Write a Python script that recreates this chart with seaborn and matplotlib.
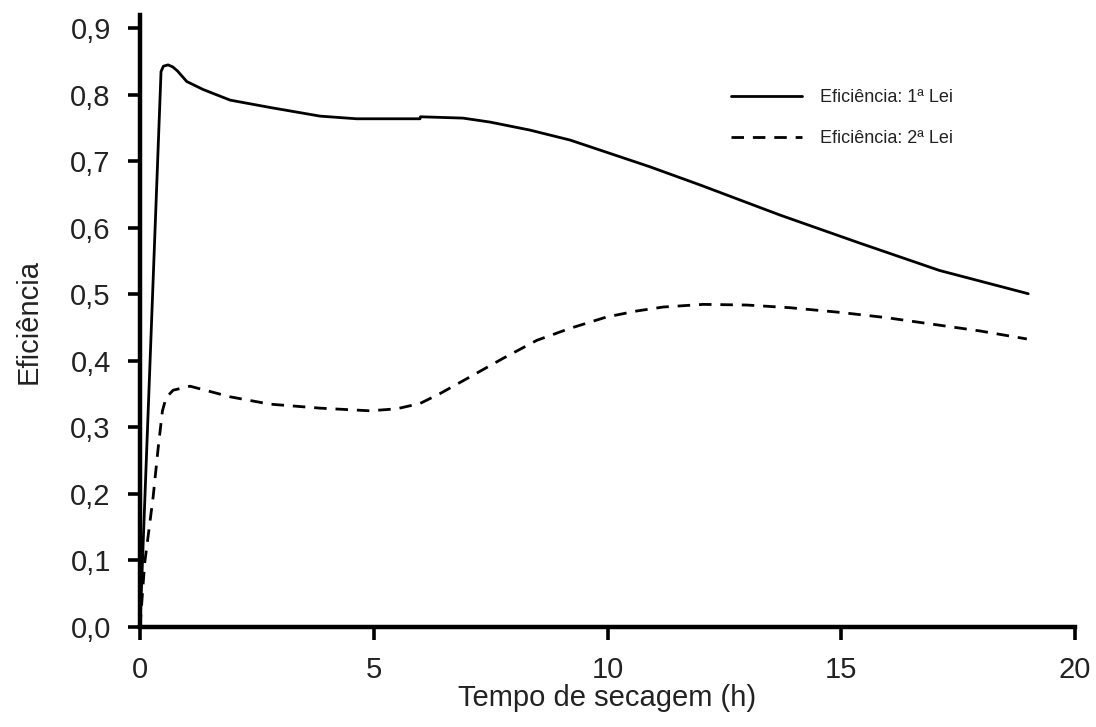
import matplotlib
matplotlib.use("Agg")
import matplotlib.pyplot as plt
import seaborn as sns
import pandas as pd

# dados
tempo_1lei = [0, 0.45, 0.5, 0.6, 0.7, 0.8, 0.9, 1.0, 1.35, 1.93, 2.78, 3.85, 4.63, 5.99, 6.0,
              6.91, 7.49, 8.34, 9.2, 10.05, 10.9, 12.0, 13.7, 15.4, 17.1, 19.0]
efic_1lei = [0, 0.835, 0.843, 0.845, 0.842, 0.836, 0.828, 0.820, 0.808, 0.792, 0.781, 0.768, 0.764, 0.764, 0.767,
             0.765, 0.759, 0.747, 0.732, 0.712, 0.692, 0.664, 0.619, 0.577, 0.536, 0.501]

tempo_2lei = [0, 0.1, 0.28, 0.39, 0.48, 0.56, 0.71, 1.07, 1.93, 2.78, 3.85, 4.92, 5.49, 5.99, 6.42,
              7.06, 7.77, 8.49, 9.2, 9.98, 10.62, 11.19, 12.05, 12.98, 13.9, 14.97, 15.97,
              16.97, 17.97, 18.97]
efic_2lei = [0, 0.096, 0.195, 0.27, 0.325, 0.345, 0.356, 0.362, 0.346, 0.335, 0.329, 0.325, 0.328, 0.336, 0.351,
             0.376, 0.404, 0.431, 0.449, 0.466, 0.475, 0.481, 0.485, 0.484, 0.480, 0.473, 0.465,
             0.455, 0.445, 0.433]

series_labels = ["Eficiência: 1ª Lei", "Eficiência: 2ª Lei"]
x_ticks = [0, 5, 10, 15, 20]
y_ticks = [0.0, 0.1, 0.2, 0.3, 0.4, 0.5, 0.6, 0.7, 0.8, 0.9]
y_tick_labels = ["0,0", "0,1", "0,2", "0,3", "0,4", "0,5", "0,6", "0,7", "0,8", "0,9"]

sns.set_style("ticks")
plt.rcParams["font.family"] = ["Liberation Sans", "DejaVu Sans"]

df1 = pd.DataFrame({"t": tempo_1lei, "e": efic_1lei})
df2 = pd.DataFrame({"t": tempo_2lei, "e": efic_2lei})

fig = plt.figure(figsize=(10.96, 7.27), dpi=100)
ax = fig.add_axes([140 / 1096, 1 - 627 / 727, 935 / 1096, 612 / 727])

sns.lineplot(data=df1, x="t", y="e", ax=ax, color="black", linewidth=2.0,
             sort=False, estimator=None, label=series_labels[0])
sns.lineplot(data=df2, x="t", y="e", ax=ax, color="black", linewidth=2.0,
             sort=False, estimator=None, label=series_labels[1])
ax.lines[1].set_linestyle((0, (4.5, 3.2)))
for ln in ax.lines[:2]:
    ln.set_solid_joinstyle("round")
    ln.set_dash_joinstyle("round")

ax.set_xlim(0, 20)
ax.set_ylim(0, 0.92)
ax.set_xticks(x_ticks)
ax.set_yticks(y_ticks)
ax.set_yticklabels(y_tick_labels)

ax.set_xlabel("Tempo de secagem (h)", fontsize=21, labelpad=0, color="#222222")
ax.set_ylabel("Eficiência", fontsize=21, labelpad=20, color="#222222")
ax.tick_params(axis="both", labelsize=21, direction="out", length=9, width=2.6,
               color="black", labelcolor="#222222")
ax.tick_params(axis="x", pad=12)
ax.tick_params(axis="y", pad=12)

sns.despine(ax=ax)
for side in ["left", "bottom"]:
    ax.spines[side].set_linewidth(3.2)
    ax.spines[side].set_color("black")

leg = ax.legend(loc="upper left", bbox_to_anchor=(0.615, 0.905), frameon=False,
                fontsize=13, handlelength=3.9, handletextpad=1.0, labelspacing=1.3)
for h in leg.get_lines():
    h.set_linewidth(2.0)
for t in leg.get_texts():
    t.set_color("#222222")

fig.savefig("out.png", dpi=100)
